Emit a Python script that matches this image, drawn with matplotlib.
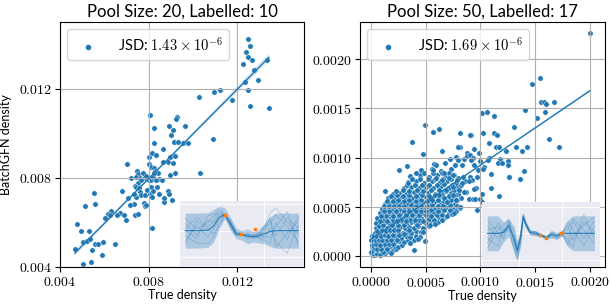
import numpy as np
import matplotlib
matplotlib.use("Agg")
import matplotlib.pyplot as plt
import seaborn as sns
from matplotlib.ticker import FuncFormatter, MultipleLocator

plt.rcParams['mathtext.fontset'] = 'cm'
plt.rcParams['font.family'] = ['Lato', 'DejaVu Sans']

# pool size 20: (true, predicted) density, in units of 1e-3
pool20_points = [
    (12.49, 14.24), (12.57, 13.94), (12.40, 13.64), (12.46, 13.43), (12.67, 13.31),
    (12.25, 13.13), (13.33, 13.31), (12.76, 12.83), (12.94, 12.41), (12.33, 12.32),
    (12.46, 11.93), (12.58, 11.24), (13.42, 11.13), (11.77, 11.51), (11.20, 11.93),
    (10.95, 11.84), (10.25, 11.63), (10.88, 9.74), (10.32, 8.23), (8.04, 10.83),
    (8.23, 10.23), (9.29, 10.73), (9.23, 10.64), (9.65, 10.34), (8.93, 10.34),
    (9.08, 10.13), (9.01, 9.92), (9.16, 9.63), (9.53, 9.56), (9.75, 9.56),
    (8.22, 9.56), (9.32, 9.63), (8.63, 9.30), (7.99, 8.95), (8.16, 9.14),
    (8.33, 9.03), (8.96, 8.95), (9.20, 8.98), (8.86, 8.73), (9.08, 8.68),
    (8.63, 8.70), (7.02, 8.62), (7.99, 8.62), (8.11, 8.50), (8.22, 8.43),
    (8.30, 8.32), (8.41, 8.20), (8.48, 7.93), (8.59, 7.90), (8.96, 8.13),
    (9.19, 8.23), (7.47, 8.32), (7.51, 8.17), (7.18, 8.01), (7.44, 8.05),
    (7.62, 8.01), (7.77, 8.01), (7.89, 8.01), (7.99, 7.90), (8.11, 7.90),
    (8.19, 8.05), (8.11, 7.60), (7.51, 7.75), (7.36, 7.65), (7.44, 7.60),
    (7.56, 7.53), (7.59, 7.35), (7.66, 7.23), (7.83, 7.23), (7.93, 7.45),
    (7.77, 6.88), (8.04, 7.26), (8.14, 7.15), (8.86, 7.41), (9.04, 7.00),
    (8.68, 6.93), (7.44, 7.15), (7.32, 6.85), (7.36, 6.33), (7.53, 6.37),
    (7.84, 6.73), (6.78, 7.42), (7.06, 7.08), (6.72, 6.43), (6.87, 6.33),
    (6.99, 6.13), (6.57, 6.33), (6.32, 6.52), (6.17, 6.37), (6.02, 6.22),
    (5.54, 7.33), (5.57, 6.82), (5.12, 6.73), (8.16, 5.73), (4.78, 5.92),
    (4.94, 5.62), (5.32, 5.62), (5.05, 5.13), (5.23, 5.17), (5.42, 4.75),
    (5.57, 5.02), (5.72, 5.02), (5.94, 5.13), (6.47, 5.02), (4.67, 4.83),
    (5.02, 4.12), (5.38, 4.23), (5.87, 4.53), (5.36, 5.24), (6.24, 6.33),
    (7.74, 8.20), (7.66, 7.90), (7.89, 8.08), (8.23, 8.20), (8.33, 7.90),
    (8.19, 7.42), (8.36, 7.60), (8.48, 7.27), (8.68, 7.12), (8.90, 7.27),
    (7.32, 7.30), (7.89, 6.78), (7.14, 6.78),
]

# pool size 50: (true, predicted) density, in units of 1e-4
pool50_points = [
    # dense cluster near the origin
    (0.1, 0.2), (0.4, 0.1), (0.7, 0.25), (1.0, 0.15), (1.3, 0.3), (0.25, 0.5), (0.55, 0.45),
    (0.9, 0.5), (1.2, 0.6), (1.6, 0.45), (2.0, 0.55), (2.3, 0.7),
    (0.1, 0.85), (0.4, 0.95), (0.75, 0.8), (1.05, 1.0), (1.4, 0.9), (1.75, 0.95), (2.1, 1.0),
    (2.5, 0.9), (2.85, 1.1),
    (0.2, 1.3), (0.5, 1.4), (0.85, 1.25), (1.2, 1.4), (1.55, 1.3), (1.9, 1.45), (2.25, 1.35),
    (2.6, 1.5), (3.0, 1.4), (3.4, 1.6), (3.9, 1.55),
    (0.3, 1.8), (0.65, 1.75), (1.0, 1.9), (1.35, 1.8), (1.7, 1.95), (2.05, 1.8), (2.4, 1.9),
    (2.8, 1.85), (3.2, 2.0), (3.6, 1.9), (4.1, 2.05),
    (0.35, 2.3), (0.7, 2.25), (1.05, 2.4), (1.4, 2.3), (1.8, 2.4), (2.15, 2.3), (2.5, 2.45),
    (2.9, 2.3), (3.3, 2.4), (3.7, 2.35), (4.1, 2.5), (4.6, 2.4),
    (0.45, 2.8), (0.8, 2.75), (1.15, 2.9), (1.5, 2.8), (1.9, 2.9), (2.3, 2.8), (2.7, 2.95),
    (3.1, 2.8), (3.5, 2.9), (3.9, 2.8), (4.3, 3.0), (4.8, 2.85), (5.3, 3.0),
    (0.5, 3.3), (0.9, 3.25), (1.3, 3.4), (1.7, 3.3), (2.1, 3.4), (2.5, 3.3), (2.9, 3.45),
    (3.3, 3.3), (3.7, 3.4), (4.1, 3.3), (4.5, 3.45), (5.0, 3.35), (5.5, 3.5), (6.1, 3.4),
    (0.6, 3.8), (1.0, 3.85), (1.4, 3.75), (1.8, 3.9), (2.2, 3.8), (2.6, 3.9), (3.0, 3.8),
    (3.4, 3.95), (3.8, 3.8), (4.2, 3.9), (4.6, 3.8), (5.1, 3.95), (5.6, 3.85), (6.2, 3.95),
    (6.8, 3.9),
    (0.8, 4.3), (1.2, 4.4), (1.6, 4.25), (2.0, 4.4), (2.4, 4.3), (2.8, 4.4), (3.2, 4.3),
    (3.6, 4.45), (4.0, 4.3), (4.4, 4.4), (4.8, 4.3), (5.3, 4.45), (5.8, 4.35), (6.4, 4.5),
    (7.1, 4.4),
    (1.0, 4.8), (1.5, 4.9), (1.9, 4.75), (2.3, 4.9), (2.7, 4.8), (3.1, 4.95), (3.5, 4.8),
    (3.9, 4.9), (4.3, 4.8), (4.8, 4.95), (5.3, 4.8), (5.8, 4.9), (6.3, 4.85), (6.9, 5.0),
    (7.5, 4.9),
    (1.3, 5.3), (1.8, 5.4), (2.3, 5.3), (2.8, 5.45), (3.3, 5.3), (3.8, 5.4), (4.3, 5.3),
    (4.8, 5.45), (5.3, 5.35), (5.8, 5.5), (6.4, 5.35), (7.0, 5.5), (7.7, 5.3),
    (1.6, 5.9), (2.1, 5.8), (2.7, 5.95), (3.2, 5.8), (3.8, 5.9), (4.4, 5.8), (5.0, 5.95),
    (5.6, 5.85), (6.2, 6.0), (6.9, 5.85), (7.6, 6.0), (8.2, 5.9),
    (2.0, 6.3), (2.6, 6.4), (3.2, 6.3), (3.9, 6.45), (4.5, 6.3), (5.2, 6.4), (5.9, 6.3),
    (6.6, 6.45), (7.3, 6.35), (8.0, 6.3),
    (3.0, 6.9), (3.7, 7.0), (4.4, 6.85), (5.0, 7.0), (5.7, 6.9), (6.4, 7.05), (7.1, 6.9),
    (7.9, 7.0),
    (3.4, 7.5), (4.1, 7.6), (4.9, 7.45), (5.6, 7.6), (6.3, 7.5), (7.0, 7.6), (7.8, 7.45),
    (8.6, 7.6),
    (3.6, 8.1), (4.5, 8.2), (5.3, 8.05), (6.0, 8.2), (6.8, 8.1), (7.6, 8.25),
    (4.6, 8.7), (5.6, 8.8), (6.4, 8.65), (7.3, 8.8),
    (5.8, 9.3), (6.8, 9.4), (7.7, 9.2),
    (0.2, 0.05), (0.55, 0.15), (0.85, 0.1), (1.15, 0.35), (0.3, 0.7), (0.6, 0.65), (0.95, 0.7),
    (1.5, 0.7), (1.8, 0.3), (0.15, 1.1), (0.45, 1.15), (0.8, 1.05), (1.25, 1.15), (1.65, 1.15),
    (2.0, 1.2), (0.35, 1.55), (0.7, 1.6), (1.05, 1.6), (1.45, 1.55), (1.85, 1.6), (2.4, 1.65),
    (0.5, 2.05), (0.9, 2.05), (1.25, 2.1), (1.6, 2.05), (2.0, 2.1), (2.6, 2.15), (3.0, 2.2),
    (0.55, 2.55), (1.0, 2.6), (1.35, 2.55), (1.75, 2.65), (2.1, 2.6), (2.5, 2.65), (3.5, 2.6),
    (0.7, 3.05), (1.1, 3.1), (1.9, 3.1), (2.5, 3.1), (3.0, 3.1), (4.2, 3.15), (1.1, 3.6),
    (2.0, 3.6), (2.8, 3.6), (3.6, 3.6), (4.4, 3.6), (5.3, 3.7), (1.4, 4.05), (2.6, 4.1),
    (3.8, 4.1), (5.0, 4.1), (6.0, 4.15), (1.7, 4.6), (3.0, 4.6), (4.1, 4.6), (5.5, 4.65),
    (6.7, 4.7),
    (0.8, 3.55), (1.5, 3.55), (2.4, 3.5), (3.2, 3.55), (4.0, 3.6), (4.8, 3.55), (5.8, 3.6),
    (6.5, 3.65), (0.9, 4.05), (2.0, 4.05), (3.2, 4.1), (4.4, 4.1), (5.5, 4.05), (6.5, 4.1),
    (7.4, 4.2), (1.2, 4.55), (2.3, 4.55), (3.5, 4.6), (4.6, 4.55), (5.0, 4.6), (6.1, 4.6),
    (7.2, 4.65), (7.8, 4.6),
    (1.2, 5.05), (1.7, 5.1), (2.1, 5.05), (2.6, 5.1), (3.0, 5.1), (3.7, 5.15), (4.1, 5.05),
    (4.6, 5.1), (5.1, 5.1), (5.6, 5.15), (6.1, 5.1), (6.6, 5.15), (7.2, 5.15), (7.9, 5.1),
    (1.5, 5.6), (2.0, 5.6), (2.5, 5.65), (3.0, 5.6), (3.5, 5.65), (4.1, 5.6), (4.6, 5.65),
    (5.1, 5.6), (5.6, 5.65), (6.1, 5.7), (6.7, 5.6), (7.3, 5.7), (7.9, 5.65),
    (1.8, 6.1), (2.4, 6.15), (2.9, 6.1), (3.5, 6.15), (4.1, 6.1), (4.7, 6.15), (5.3, 6.1),
    (5.9, 6.15), (6.5, 6.2), (7.1, 6.1), (7.7, 6.2),
    (2.3, 6.6), (2.9, 6.65), (3.5, 6.6), (4.2, 6.65), (4.8, 6.6), (5.5, 6.65), (6.2, 6.7),
    (6.9, 6.6), (7.6, 6.7),
    (3.3, 7.2), (4.0, 7.25), (4.7, 7.2), (5.3, 7.25), (6.0, 7.2), (6.7, 7.3), (7.4, 7.2),
    (8.2, 7.25), (3.8, 7.85), (4.5, 7.8), (5.2, 7.85), (5.9, 7.8), (6.6, 7.85), (7.3, 7.8),
    (8.0, 7.9), (4.1, 8.4), (4.9, 8.45), (5.7, 8.4), (6.5, 8.45), (7.1, 8.4),
    (0.05, 0.4), (0.05, 1.6), (0.1, 2.05), (5.4, 3.1), (5.9, 3.2), (6.5, 3.6), (7.0, 4.0),
    (7.6, 4.3), (8.1, 4.9), (4.5, 1.9), (4.8, 2.4), (3.6, 1.3), (4.3, 1.7),
    # spread-out points
    (20.0, 22.65), (15.45, 18.06), (14.76, 17.49), (15.57, 15.69), (15.81, 15.69),
    (16.02, 15.45), (16.71, 15.69), (15.90, 14.64), (15.21, 14.06), (14.10, 14.84),
    (13.11, 13.07), (10.18, 14.50), (10.63, 14.64), (11.26, 14.23), (4.94, 13.28),
    (6.20, 12.94), (5.72, 12.62), (8.14, 12.45), (9.16, 12.25), (10.24, 12.49),
    (11.26, 12.49), (11.50, 12.28), (10.81, 11.43), (16.29, 11.84), (17.16, 11.06),
    (8.14, 11.06), (6.50, 10.65), (8.74, 10.48), (9.46, 10.82), (9.85, 10.48),
    (11.44, 11.10), (11.71, 11.10), (12.31, 10.65), (13.23, 11.06), (13.83, 10.65),
    (14.22, 11.06), (7.75, 10.04), (7.25, 9.87), (7.99, 9.70), (8.53, 9.87),
    (8.74, 10.14), (9.10, 10.21), (9.31, 9.94), (9.16, 9.74), (10.0, 9.67),
    (10.75, 10.00), (10.66, 9.70), (10.36, 9.06), (11.77, 9.80), (11.65, 9.47),
    (11.95, 9.47), (12.54, 9.67), (12.49, 9.23), (8.35, 9.19), (9.40, 9.23),
    (9.79, 8.72), (10.24, 8.79), (10.93, 8.28), (12.63, 8.04), (13.65, 7.84),
    (13.98, 8.65), (10.96, 6.85), (11.68, 6.07), (10.15, 6.27), (9.64, 6.85),
    (9.40, 6.75), (9.01, 5.73), (9.34, 5.73), (9.55, 5.73), (10.0, 5.73),
    (10.15, 5.49), (8.14, 4.92), (8.65, 6.51), (8.35, 7.36), (9.10, 8.04),
    (9.70, 8.04), (9.25, 7.70), (8.95, 7.63), (8.44, 8.04), (12.60, 8.05),
    (9.67, 4.65), (3.74, 11.54), (4.73, 10.36), (7.93, 11.04), (9.08, 12.29),
    (2.54, 8.76), (3.29, 9.17), (1.29, 6.62), (4.94, 1.46), (3.95, 0.61),
    (3.38, 7.37), (5.96, 9.23), (5.66, 8.72), (6.71, 8.38), (6.5, 7.7),
    (7.16, 7.87), (7.46, 8.21), (7.90, 7.70), (5.96, 7.87), (7.46, 7.02),
    (6.86, 6.68), (6.2, 6.17), (6.71, 5.83), (7.46, 6.17), (8.05, 6.68),
    (7.0, 5.49), (7.75, 5.66), (8.50, 6.51),
]

jsd_labels = ['JSD: $1.43 \\times 10^{-6}$', 'JSD: $1.69 \\times 10^{-6}$']
titles = ['Pool Size: 20, Labelled: 10', 'Pool Size: 50, Labelled: 17']

# inset posteriors (x in [0, 1], values in prior std units)
inset20_x = [0, 0.1, 0.2, 0.25, 0.3, 0.35, 0.4, 0.45, 0.5, 0.55, 0.6, 0.65, 0.7, 0.75, 0.8, 0.9, 1.0]
inset20_mean = [0, 0, 0.05, 0.5, 1.5, 1.85, 0.8, -0.35, -0.45, -0.6, -0.7, -0.6, -0.35, -0.1, 0, 0, 0]
inset20_upper = [2.0, 2.0, 2.05, 2.4, 2.8, 2.6, 1.5, 0.3, 0.0, 0.2, -0.1, 0.1, 0.8, 1.6, 2.0, 2.0, 2.0]
inset20_lower = [-2.0, -2.0, -1.9, -1.3, 0.2, 1.4, 0.0, -0.9, -1.1, -1.5, -1.3, -1.4, -1.5, -1.8, -2.0, -2.0, -2.0]
inset20_samples = [
    [0.8, -0.5, 1.2, 0.9, 1.7, 1.9, 0.6, -0.4, -0.5, -0.4, -0.9, -0.3, 0.5, 1.2, -0.6, 1.4, 0.3],
    [-1.2, 0.6, -0.8, 0.2, 1.2, 1.8, 1.1, -0.2, -0.4, -0.8, -0.5, -0.9, -1.1, -1.5, 0.9, -1.0, 1.6],
    [0.3, 1.5, 0.4, 1.1, 2.1, 1.8, 0.4, -0.6, -0.5, -0.3, -0.8, -0.7, 0.2, 0.8, 1.8, 0.5, -1.3],
    [-0.6, -1.4, -1.5, -0.8, 0.8, 1.9, 1.2, -0.1, -0.3, -1.0, -0.6, -0.2, -0.9, 0.3, -1.2, -2.6, 0.7],
    [1.4, 0.2, 0.9, 1.6, 2.4, 1.8, 0.5, -0.5, -0.6, -0.5, -0.4, -0.5, 0.4, 2.0, 2.6, 1.0, -0.4],
    [-1.6, 1.1, 0.2, -0.4, 0.5, 1.7, 0.9, -0.3, -0.4, -0.7, -0.7, -0.8, -0.6, -0.8, 0.4, 2.2, -1.7],
    [0.1, -0.9, 1.7, 1.9, 1.9, 1.9, 0.7, -0.5, -0.5, -0.6, -0.6, -0.4, -0.2, 1.5, -1.9, -0.3, 1.1],
]
inset20_obs_x = [0.35, 0.49, 0.62]
inset20_obs_y = [1.8, -0.38, 0.19]

inset50_x = [0, 0.1, 0.15, 0.2, 0.25, 0.28, 0.31, 0.335, 0.36, 0.4, 0.45, 0.5, 0.55, 0.6, 0.65, 0.7, 0.75, 0.8, 0.9, 1.0]
inset50_mean = [0, 0, 0.1, 0.9, -0.6, -2.0, -0.5, 1.9, 1.0, 0.1, 0.0, -0.2, -0.5, -0.1, -0.3, 0.0, 0.0, 0, 0, 0]
inset50_upper = [2.0, 2.0, 1.3, 1.7, 0.8, -1.0, 0.5, 2.3, 1.4, 0.4, 0.3, 0.0, -0.25, 0.3, 0.1, 0.3, 1.5, 2.0, 2.0, 2.0]
inset50_lower = [-2.0, -2.0, -1.0, -0.3, -2.2, -3.0, -1.6, 1.5, 0.6, -0.2, -0.3, -0.4, -0.7, -0.5, -0.7, -0.3, -1.5, -2.0, -2.0, -2.0]
inset50_samples = [
    [0.9, -0.6, 0.3, 1.2, -0.9, -2.4, -0.3, 2.0, 1.1, 0.2, 0.1, -0.1, -0.4, 0.0, -0.2, 0.1, 0.9, -0.8, 1.3, 0.2],
    [-1.1, 1.2, 0.0, 0.6, -1.5, -2.8, -0.9, 1.8, 0.9, 0.0, -0.1, -0.3, -0.6, -0.3, -0.5, -0.2, -1.1, 1.4, -0.6, 1.5],
    [0.4, 0.8, -0.4, 1.4, 0.2, -1.4, -0.2, 2.1, 1.2, 0.3, 0.2, -0.2, -0.5, 0.1, -0.4, 0.2, 0.5, 1.7, 0.4, -1.2],
    [-0.5, -1.5, 0.6, 0.3, -1.9, -3.1, -1.2, 1.7, 0.8, -0.1, -0.2, -0.3, -0.6, -0.4, -0.6, -0.1, -0.7, -1.6, 2.2, -0.6],
    [1.5, 0.1, -0.7, 1.0, -0.2, -1.8, 0.1, 2.2, 1.3, 0.2, 0.2, -0.1, -0.4, 0.2, -0.1, 0.2, 1.3, 0.4, -1.4, 0.8],
    [-1.7, 0.5, 0.9, 1.6, -1.2, -2.2, -0.6, 1.9, 1.0, 0.1, 0.0, -0.2, -0.5, -0.2, -0.3, 0.0, -1.4, -0.3, 0.9, 1.9],
]
inset50_obs_x = [0.49, 0.544, 0.69]
inset50_obs_y = [-0.19, -0.57, 0.0]

fig = plt.figure(figsize=(6.1, 3.07), dpi=100)
ax1 = fig.add_axes([0.0984, 0.1303, 0.4, 0.798])
ax2 = fig.add_axes([0.590, 0.1303, 0.402, 0.798])

x20, y20 = np.array(pool20_points).T * 1e-3
x50, y50 = np.array(pool50_points).T * 1e-4

for ax, x, y, lab, title, ci in [(ax1, x20, y20, jsd_labels[0], titles[0], 50),
                                 (ax2, x50, y50, jsd_labels[1], titles[1], 25)]:
    ax.scatter(x, y, s=15, color='C0', edgecolors='white', linewidths=0.3, label=lab, zorder=1)
    sns.regplot(x=x, y=y, ax=ax, scatter=False, color='C0', seed=0, ci=ci,
                line_kws={'lw': 1.0})
    ax.grid(True, color='#b0b0b0', lw=0.8)
    ax.set_title(title, fontsize=12, pad=4)
    ax.set_xlabel('True density', fontsize=9, labelpad=1)
    ax.set_ylabel('')
    ax.legend(loc='upper left', fontsize=10.5, handletextpad=1.0, borderpad=0.45,
              markerscale=1.1, framealpha=0.8)
    ax.tick_params(labelsize=10, length=3.5, width=0.8, pad=2)

ax1.set_ylabel('BatchGFN density', fontsize=9)
ax1.yaxis.set_label_coords(-0.195, 0.5)

ax1.set_xlim(0.004, 0.015)
ax1.set_ylim(0.004, 0.015)
ax1.xaxis.set_major_locator(MultipleLocator(0.004))
ax1.yaxis.set_major_locator(MultipleLocator(0.004))
ax1.xaxis.set_major_formatter(FuncFormatter(lambda v, p: f'${v:.3f}$'))
ax1.yaxis.set_major_formatter(FuncFormatter(lambda v, p: f'${v:.3f}$'))

ax2.set_xlim(-0.0001, 0.00214)
ax2.set_ylim(-0.000115, 0.00238)
ax2.xaxis.set_major_locator(MultipleLocator(0.0005))
ax2.yaxis.set_major_locator(MultipleLocator(0.0005))
ax2.xaxis.set_major_formatter(FuncFormatter(lambda v, p: f'${abs(v):.4f}$'))
ax2.yaxis.set_major_formatter(FuncFormatter(lambda v, p: f'${abs(v):.4f}$'))


def draw_inset(ax, bounds, xs, mean, lower, upper, samples, ox, oy, ylim):
    ins = ax.inset_axes(bounds)
    ins.set_facecolor('#EAEAF2')
    for s in ins.spines.values():
        s.set_visible(False)
    ins.set_axisbelow(True)
    ins.grid(True, color='white', lw=0.6)
    ins.set_xticks([0.3, 0.7])
    ins.set_yticks([-3, 0, 3])
    ins.tick_params(length=0, labelbottom=False, labelleft=False)
    ins.fill_between(xs, lower, upper, color='C0', alpha=0.3, lw=0)
    for smp in samples:
        ins.plot(xs, smp, color='C0', lw=0.4, alpha=0.4)
    ins.plot(xs, mean, color='C0', lw=0.9, alpha=0.85)
    ins.scatter(ox, oy, s=3, marker='s', color='C1', zorder=5)
    ins.set_ylim(*ylim)
    return ins


draw_inset(ax1, [0.49, 0.0, 0.51, 0.27], inset20_x, inset20_mean, inset20_lower,
           inset20_upper, inset20_samples, inset20_obs_x, inset20_obs_y, (-4.15, 3.4))
draw_inset(ax2, [0.498, 0.0, 0.48, 0.265], inset50_x, inset50_mean, inset50_lower,
           inset50_upper, inset50_samples, inset50_obs_x, inset50_obs_y, (-3.85, 3.58))

fig.savefig('out.png', dpi=100)
